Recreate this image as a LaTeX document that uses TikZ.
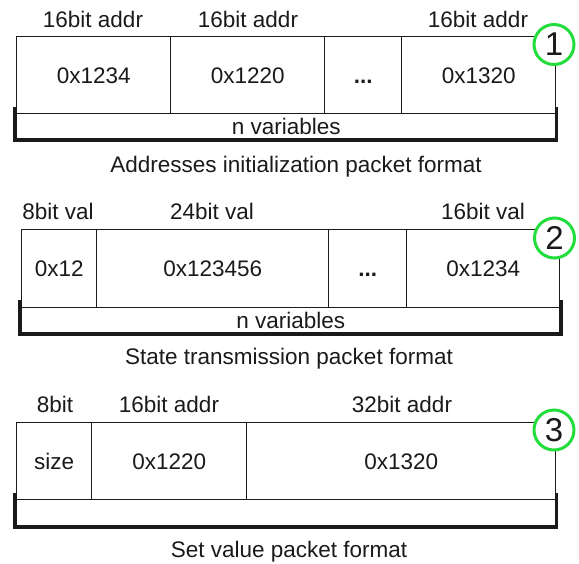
\documentclass[tikz,border=0pt]{standalone}
\usepackage{fontspec}
\setmainfont{Liberation Sans}
\definecolor{ink}{HTML}{1A1A1A}
\definecolor{mark}{HTML}{22DD3C}
\tikzset{
  txt/.style={font=\fontsize{22.5}{27}\selectfont, text=ink, inner sep=0pt, text height=16pt, text depth=0pt},
  cell/.style={txt, draw=ink, line width=1.4pt, anchor=north west},
  brack/.style={draw=ink, line width=3pt},
  num/.style={circle, draw=mark, line width=3pt, fill=white, minimum size=40pt, inner sep=0pt,
              font=\fontsize{33}{36}\selectfont, text=ink}
}
\begin{document}
\begin{tikzpicture}[x=1pt,y=-1pt]
\useasboundingbox (0,0) rectangle (579,563);
% ---------- panel 1
\node[cell, minimum width=154pt, minimum height=77pt] (a1) at (16,36) {0x1234};
\node[cell, minimum width=154pt, minimum height=77pt] (a2) at (170,36) {0x1220};
\node[cell, minimum width=77pt, minimum height=77pt] (a3) at (324,36) {\bfseries ...};
\node[cell, minimum width=154pt, minimum height=77pt] (a4) at (401,36) {0x1320};
\node[cell, minimum width=539pt, minimum height=25pt] (an) at (16,113) {n variables};
\coordinate (ab1) at (14,107); \coordinate (ab2) at (14,140);
\coordinate (ab3) at (556.5,140); \coordinate (ab4) at (556.5,107);
\draw[brack] (ab1) -- (ab2) -- (ab3) -- (ab4);
\node[txt] (al1) at (93,19) {16bit addr};
\node[txt] (al2) at (248,19) {16bit addr};
\node[txt] (al4) at (478,19) {16bit addr};
\node[txt] (acap) at (296,164) {Addresses initialization packet format};
\node[num] (c1) at (554,44.5) {1};
% ---------- panel 2
\node[cell, minimum width=75pt, minimum height=78pt] (b1) at (21,229) {0x12};
\node[cell, minimum width=232pt, minimum height=78pt] (b2) at (96,229) {0x123456};
\node[cell, minimum width=78pt, minimum height=78pt] (b3) at (328,229) {\bfseries ...};
\node[cell, minimum width=153pt, minimum height=78pt] (b4) at (406,229) {0x1234};
\node[cell, minimum width=538pt, minimum height=25pt] (bn) at (21,307) {n variables};
\coordinate (bb1) at (19,300); \coordinate (bb2) at (19,334);
\coordinate (bb3) at (561,334); \coordinate (bb4) at (561,300);
\draw[brack] (bb1) -- (bb2) -- (bb3) -- (bb4);
\node[txt] (bl1) at (58,211) {8bit val};
\node[txt] (bl2) at (212,211) {24bit val};
\node[txt] (bl4) at (483,211) {16bit val};
\node[txt] (bcap) at (289,356) {State transmission packet format};
\node[num] (c2) at (554.5,238) {2};
% ---------- panel 3
\node[cell, minimum width=75pt, minimum height=77pt] (d1) at (16,422) {size};
\node[cell, minimum width=155pt, minimum height=77pt] (d2) at (91,422) {0x1220};
\node[cell, minimum width=309pt, minimum height=77pt] (d3) at (246,422) {0x1320};
\node[cell, minimum width=539pt, minimum height=26pt] (dn) at (16,499) {};
\coordinate (db1) at (14,493); \coordinate (db2) at (14,527);
\coordinate (db3) at (556.5,527); \coordinate (db4) at (556.5,493);
\draw[brack] (db1) -- (db2) -- (db3) -- (db4);
\node[txt] (dl1) at (55,404.5) {8bit};
\node[txt] (dl2) at (169,404.5) {16bit addr};
\node[txt] (dl3) at (402,404.5) {32bit addr};
\node[txt] (dcap) at (289,549) {Set value packet format};
\node[num] (c3) at (554,430) {3};
\end{tikzpicture}
\end{document}
